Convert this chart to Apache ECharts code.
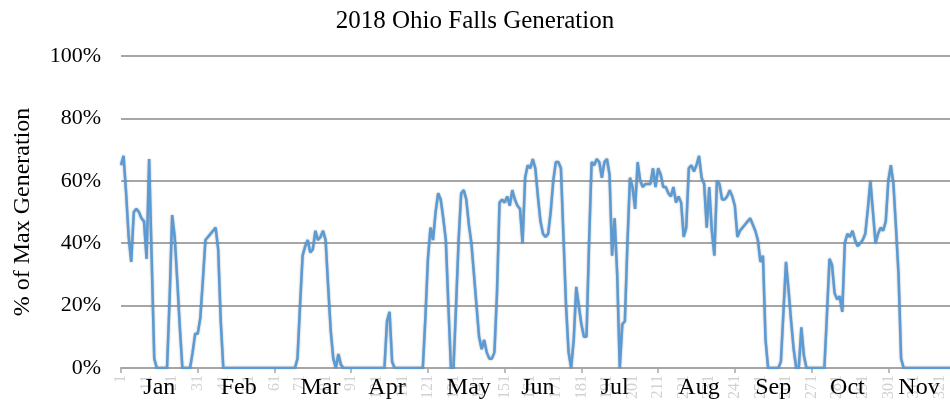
<!DOCTYPE html>
<html>
<head>
<meta charset="utf-8">
<title>2018 Ohio Falls Generation</title>
<script src="https://cdn.jsdelivr.net/npm/echarts@6/dist/echarts.min.js"></script>
<style>
    html, body { margin: 0; padding: 0; background: #fff; }
    #main { width: 950px; height: 409px; }
</style>
</head>
<body>
<div id="main"></div>
<script type="text/javascript">
    // daily generation, % of max (day 1 = Jan 1)
    var generation = [
        65, 68, 56, 42, 34, 50, 51, 50, 48, 47,
        35, 67, 35, 3, 0, 0, 0, 0, 0, 22,
        49, 42, 28, 13, 0, 0, 0, 0, 5, 11,
        11, 16, 28, 41, 42, 43, 44, 45, 38, 15,
        0, 0, 0, 0, 0, 0, 0, 0, 0, 0,
        0, 0, 0, 0, 0, 0, 0, 0, 0, 0,
        0, 0, 0, 0, 0, 0, 0, 0, 0, 3,
        20, 36, 39, 41, 37, 38, 44, 41, 42, 44,
        41, 26, 12, 3, 0, 4.5, 1, 0, 0, 0,
        0, 0, 0, 0, 0, 0, 0, 0, 0, 0,
        0, 0, 0, 0, 15, 18, 2, 0, 0, 0,
        0, 0, 0, 0, 0, 0, 0, 0, 0, 16,
        35, 45, 41, 50, 56, 54, 48, 41, 20, 0,
        0, 20, 41, 56, 57, 54, 46, 40, 30, 20,
        10, 6, 9, 5, 3, 3, 5, 24, 53, 54,
        53, 55, 52, 57, 54, 52, 51, 40, 61, 65,
        64, 67, 64, 55, 47, 43, 42, 43, 50, 60,
        66, 66, 64, 42, 20, 5, 0, 9, 26, 20,
        14, 10, 10, 40, 66, 65, 67, 66, 61, 66,
        67, 62, 36, 48, 30, 0, 14, 15, 40, 61,
        58, 51, 66, 60, 58, 59, 59, 59, 64, 58,
        64, 62, 58, 58, 56, 55, 58, 53, 55, 53,
        42, 45, 64, 65, 63, 65, 68, 61, 59, 45,
        58, 44, 36, 60, 59, 54, 54, 55, 57, 55,
        52, 42, 44, 45, 46, 47, 48, 46, 44, 41,
        34, 36, 9, 0, 0, 0, 0, 0, 2, 18,
        34, 25, 15, 6, 0, 0, 13, 4, 0, 0,
        0, 0, 0, 0, 0, 0, 17, 35, 33, 24,
        22, 23, 18, 40, 43, 42, 44, 41, 39, 40,
        41, 43, 51, 60, 50, 40, 43, 45, 44, 47,
        60, 65, 59, 45, 30, 3, 0, 0, 0, 0,
        0, 0, 0, 0, 0, 0, 0, 0, 0, 0,
        0, 0, 0, 0, 0, 0, 0, 0, 0, 0
    ];
    var months = ['Jan', 'Feb', 'Mar', 'Apr', 'May', 'Jun', 'Jul', 'Aug', 'Sep', 'Oct', 'Nov'];
    // day index under which each month name sits
    var monthAt = [15, 46, 78, 104, 136, 163, 193, 226, 255, 284, 312];
    var yTicks = [0, 20, 40, 60, 80, 100];

    var days = [];
    for (var d = 1; d <= 365; d++) {
        days.push(String(d));
    }

    var font = 'Liberation Serif';
    var chart = echarts.init(document.getElementById('main'), null, {renderer: 'canvas'});

    var option = {
        animation: false,
        backgroundColor: '#ffffff',
        title: {
            text: '2018 Ohio Falls Generation',
            left: 'center',
            top: 4,
            textStyle: {fontFamily: font, fontSize: 25, fontWeight: 'normal', color: '#000'}
        },
        grid: {
            left: 121,
            right: -102,
            top: 56,
            bottom: 41,
            containLabel: false,
            outerBoundsMode: 'none'
        },
        xAxis: [
            {
                type: 'category',
                position: 'bottom',
                data: days,
                boundaryGap: false,
                axisLine: {lineStyle: {color: '#a6a6a6', width: 2}},
                axisTick: {interval: 29, length: 5, lineStyle: {color: '#a6a6a6', width: 1.5}},
                axisLabel: {
                    interval: 9,
                    rotate: 90,
                    margin: 7,
                    color: '#d2d2d2',
                    fontFamily: font,
                    fontSize: 16
                },
                splitLine: {show: false}
            },
            {
                type: 'category',
                position: 'bottom',
                data: days,
                boundaryGap: false,
                axisLine: {show: false},
                axisTick: {show: false},
                axisLabel: {
                    margin: 8,
                    color: '#000',
                    fontFamily: font,
                    fontSize: 24,
                    interval: function (index) {
                        return monthAt.indexOf(index) !== -1;
                    },
                    formatter: function (value, index) {
                        return months[monthAt.indexOf(index)];
                    }
                },
                splitLine: {show: false}
            }
        ],
        yAxis: {
            type: 'value',
            min: yTicks[0],
            max: yTicks[yTicks.length - 1],
            interval: yTicks[1] - yTicks[0],
            name: '% of Max Generation',
            nameLocation: 'middle',
            nameRotate: 90,
            nameGap: 86,
            nameTextStyle: {fontFamily: font, fontSize: 24, color: '#000'},
            axisLine: {show: false},
            axisTick: {show: false},
            axisLabel: {
                formatter: '{value}%',
                margin: 20,
                color: '#000',
                fontFamily: font,
                fontSize: 22
            },
            splitLine: {lineStyle: {color: '#a6a6a6', width: 2}}
        },
        series: [
            {
                name: 'Generation',
                type: 'line',
                xAxisIndex: 0,
                data: generation,
                symbol: 'none',
                smooth: false,
                lineStyle: {
                    color: '#5b9bd5',
                    width: 2.5,
                    shadowColor: 'rgba(0, 0, 0, 0.35)',
                    shadowBlur: 2
                }
            }
        ]
    };

    chart.setOption(option);
</script>
</body>
</html>
